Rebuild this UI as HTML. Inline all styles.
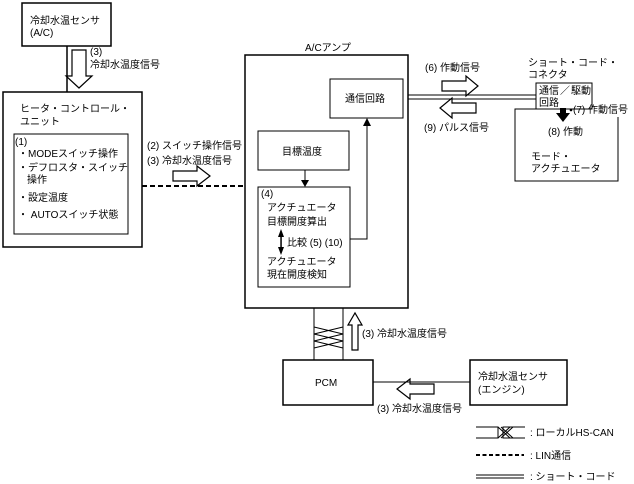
<!DOCTYPE html>
<html><head><meta charset="utf-8"><style>
html,body{margin:0;padding:0;background:#fff;}
svg{display:block;}
text{font-family:"Liberation Sans","Noto Sans CJK JP",sans-serif;font-size:10px;fill:#000;}
</style></head><body>
<svg width="634" height="484" viewBox="0 0 634 484">
<g fill="none" stroke="#000" stroke-width="1.5">
<rect x="22" y="3" width="89" height="43"/>
<line x1="67" y1="46" x2="67" y2="92"/>
<rect x="3" y="92" width="139" height="155"/>
<rect x="14" y="134" width="114" height="100" stroke-width="1"/>
<line x1="142" y1="186" x2="245" y2="186" stroke-dasharray="5,3" stroke-width="2"/>
<rect x="245" y="55" width="163" height="253"/>
<rect x="330" y="79" width="73" height="39" stroke-width="1"/>
<rect x="258" y="131" width="91" height="39" stroke-width="1"/>
<rect x="258" y="187" width="92" height="100" stroke-width="1"/>
<line x1="305" y1="170" x2="305" y2="180" stroke-width="1"/>
<polyline points="350,239 367,239 367,126" stroke-width="1"/>
<line x1="408" y1="95" x2="536" y2="95" stroke-width="1"/>
<line x1="408" y1="99" x2="536" y2="99" stroke-width="1"/>
<rect x="536" y="83" width="56" height="26" stroke-width="1"/>
<polyline points="536,109 515,109 515,181 618,181 618,117" stroke-width="1"/>
<line x1="314" y1="308" x2="314" y2="360" stroke-width="1"/>
<line x1="343" y1="308" x2="343" y2="360" stroke-width="1"/>
<polyline points="314,327 343,334 314,341 343,348" stroke-width="1"/>
<polyline points="343,327 314,334 343,341 314,348" stroke-width="1"/>
<rect x="283" y="360" width="90" height="45"/>
<rect x="470" y="360" width="97" height="45"/>
<line x1="373" y1="382" x2="470" y2="382" stroke-width="1"/>
<path d="M72,50 h14 v26 h6 l-13,12 l-13,-12 h6 z" stroke-width="1.2"/>
<path d="M173,171 h24 v-5 l13,10 l-13,10 v-5 h-24 z" stroke-width="1.2"/>
<path d="M442,81 h24 v-5 l12,10 l-12,10 v-5 h-24 z" stroke-width="1.2"/>
<path d="M476,103 h-24 v-5 l-12,10 l12,10 v-5 h24 z" stroke-width="1.2"/>
<path d="M352,350 v-25 h-4 l7,-12 l7,12 h-4 v25 z" stroke-width="1.2"/>
<path d="M434,384 h-24 v-5 l-13,10 l13,10 v-5 h24 z" stroke-width="1.2"/>
<path d="M476,427 h22 v11 h-22 M525,427 h-22 v11 h22" stroke-width="1"/>
<path d="M498,427 L510,438 M498,438 L510,427 M501,427 L513,438 M501,438 L513,427" stroke-width="1"/>
<line x1="476" y1="455" x2="524" y2="455" stroke-dasharray="4,2.5" stroke-width="2"/>
<line x1="476" y1="475" x2="524" y2="475" stroke-width="1"/>
<line x1="476" y1="478" x2="524" y2="478" stroke-width="1"/>
</g>
<g fill="#000">
<path d="M301,180 h8 l-4,7 z"/>
<path d="M363,126 h8 l-4,-8 z"/>
<path d="M278,237 l3,-8 l3,8 z"/>
<rect x="280.3" y="236" width="1.5" height="12"/>
<path d="M278,247 l3,8 l3,-8 z"/>
<path d="M560,108 h6 v5 h4 l-7,9 l-7,-9 h4 z"/>
<circle cx="571" cy="110" r="1.3"/>
</g>
<text x="30" y="24">冷却水温センサ</text>
<text x="30" y="36">(A/C)</text>
<text x="90" y="55">(3)</text>
<text x="90" y="68">冷却水温度信号</text>
<text x="20" y="112">ヒータ・コントロール・</text>
<text x="20" y="125">ユニット</text>
<text x="15" y="145">(1)</text>
<text x="18" y="157">・MODEスイッチ操作</text>
<text x="18" y="171">・デフロスタ・スイッチ</text>
<text x="27" y="183">操作</text>
<text x="18" y="201">・設定温度</text>
<text x="18" y="218">・ AUTOスイッチ状態</text>
<text x="147" y="149">(2) スイッチ操作信号</text>
<text x="147" y="164">(3) 冷却水温度信号</text>
<text x="305" y="51">A/Cアンプ</text>
<text x="345" y="102">通信回路</text>
<text x="282" y="155">目標温度</text>
<text x="261" y="197">(4)</text>
<text x="267" y="211">アクチュエータ</text>
<text x="267" y="225">目標開度算出</text>
<text x="287" y="246">比較 (5) (10)</text>
<text x="267" y="265">アクチュエータ</text>
<text x="267" y="278">現在開度検知</text>
<text x="425" y="71">(6) 作動信号</text>
<text x="424" y="131">(9) パルス信号</text>
<text x="528" y="66">ショート・コード・</text>
<text x="528" y="78">コネクタ</text>
<text x="539" y="94">通信</text>
<text x="560" y="94" fill="#999">／</text>
<text x="571" y="94">駆動</text>
<text x="539" y="106">回路</text>
<text x="573" y="113">(7) 作動信号</text>
<text x="548" y="135">(8) 作動</text>
<text x="531" y="160">モード・</text>
<text x="531" y="172">アクチュエータ</text>
<text x="362" y="337">(3) 冷却水温度信号</text>
<text x="315" y="386">PCM</text>
<text x="478" y="380">冷却水温センサ</text>
<text x="478" y="393">(エンジン)</text>
<text x="377" y="412">(3) 冷却水温度信号</text>
<text x="530" y="436">: ローカルHS-CAN</text>
<text x="530" y="459">: LIN通信</text>
<text x="530" y="480">: ショート・コード</text>
</svg>
</body></html>
